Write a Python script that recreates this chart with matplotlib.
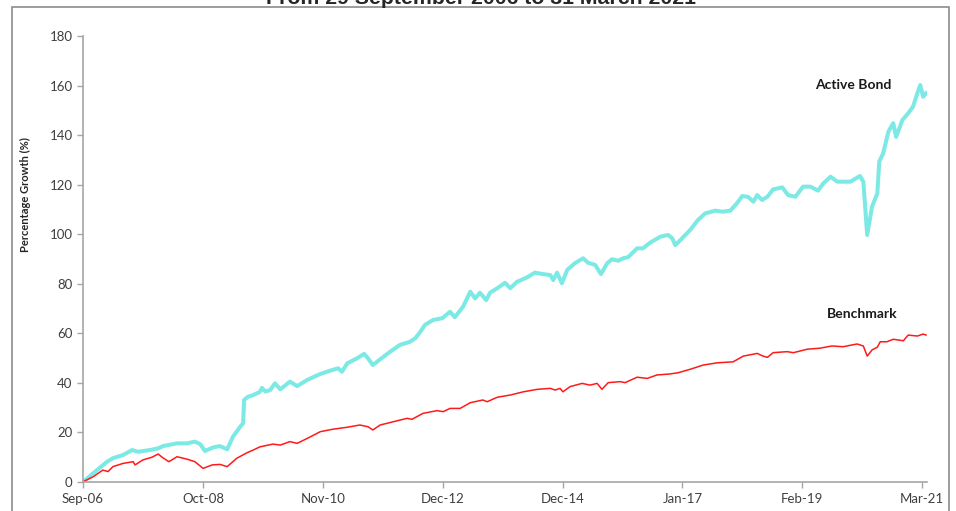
import numpy as np
import matplotlib
matplotlib.use("Agg")
from matplotlib import pyplot as plt
from matplotlib.patches import Rectangle

# months since Sep-06 and percentage growth
bond_month = [0, 2.1, 5.0, 6.2, 8.3, 10.2, 11.4, 13.9, 15.6, 16.6, 19.5, 21.6, 23.2, 24.3,
              25.3, 27.0, 28.4, 29.9, 31.1, 32.6, 33.2, 33.4, 34.2, 35.3, 36.7, 37.1, 37.8,
              38.8, 39.8, 40.9, 42.9, 44.4, 46.5, 49.2, 51.2, 52.9, 53.7, 54.8, 56.8, 58.3,
              59.1, 60.1, 61.6, 63.7, 65.7, 67.8, 68.9, 69.9, 70.9, 72.6, 74.5, 76.1, 77.1,
              78.8, 80.3, 81.3, 82.3, 83.6, 84.4, 85.9, 87.5, 88.6, 90.0, 92.1, 93.7, 95.4,
              96.9, 97.5, 98.3, 99.3, 100.4, 102.0, 103.7, 104.7, 106.2, 107.4, 108.7, 109.7,
              111.0, 112.0, 113.0, 114.9, 116.1, 117.6, 119.7, 121.3, 122.2, 122.8, 124.2,
              125.9, 127.5, 129.0, 131.1, 132.7, 134.2, 135.6, 136.7, 137.9, 139.0, 139.8,
              140.8, 141.9, 143.1, 145.0, 146.2, 147.7, 149.3, 150.8, 152.4, 153.5, 155.0,
              156.4, 159.1, 161.1, 161.8, 162.6, 163.6, 164.7, 165.1, 165.9, 167.0, 168.0,
              168.6, 169.9, 171.1, 172.1, 173.0, 173.6, 174.2, 174.8]
bond_value = [0, 3.5, 8.2, 9.6, 10.9, 12.9, 12.2, 12.9, 13.6, 14.5, 15.6, 15.6, 16.3, 15.3,
              12.5, 14.0, 14.5, 13.2, 18.3, 22.3, 23.7, 33.1, 34.4, 35.1, 36.4, 38.0, 36.5,
              37.1, 39.8, 37.4, 40.5, 38.7, 41.2, 43.6, 44.9, 45.9, 44.5, 47.9, 49.9, 51.7,
              49.9, 47.2, 49.5, 52.6, 55.3, 56.6, 58.0, 60.5, 63.4, 65.4, 66.1, 68.7, 66.5,
              70.7, 76.8, 74.1, 76.4, 73.4, 76.4, 78.2, 80.4, 78.2, 80.8, 82.6, 84.5, 83.9,
              83.5, 81.5, 84.5, 80.2, 85.6, 88.3, 90.3, 88.5, 87.6, 83.9, 88.3, 89.9,
              89.3, 90.3, 90.7, 94.3, 94.3, 96.6, 99.0, 99.7, 98.3, 95.6, 98.3,
              101.7, 105.7, 108.4, 109.5, 109.1, 109.5, 112.5, 115.4, 115.1, 113.1, 115.8,
              113.8, 115.1, 118.1, 118.9, 115.8, 115.1, 119.2, 119.2, 117.6, 120.5, 123.2,
              121.2, 121.2, 123.5, 121.2, 99.7, 111.1, 116.5, 129.3, 132.6, 141.4, 144.8,
              139.3, 146.1, 148.8, 151.5, 156.9, 160.2, 155.5, 156.9]

bench_month = [0, 2.1, 4.1, 5.2, 6.2, 8.3, 10.4, 10.8, 12.4, 14.3, 15.6, 16.4, 17.8, 19.5,
               21.6, 23.2, 24.9, 26.8, 28.4, 29.9, 31.9, 34.0, 35.3, 36.7, 39.4, 40.9, 42.9,
               44.4, 46.5, 49.2, 51.8, 54.8, 57.4, 59.1, 60.1, 61.6, 64.3, 67.2, 68.2, 70.5,
               73.4, 74.7, 76.1, 78.2, 80.3, 82.9, 83.8, 85.9, 88.6, 91.3, 94.2, 96.9, 97.9,
               98.9, 99.5, 101.0, 103.5, 105.1, 106.6, 107.6, 108.9, 111.4, 112.4, 114.9,
               117.0, 119.0, 121.7, 123.4, 125.9, 128.6, 131.5, 134.8, 136.9, 139.8, 141.0,
               141.9, 143.1, 146.0, 147.3, 150.2, 152.8, 155.3, 157.6, 160.5, 161.8, 162.6,
               163.6, 164.7, 165.3, 166.7, 168.0, 170.1, 171.1, 173.0, 174.2, 174.8]
bench_value = [0.1, 2.1, 4.8, 4.2, 6.2, 7.5, 8.2, 6.9, 8.9, 10.0, 11.3, 10.0, 8.2, 10.2,
               9.2, 8.2, 5.5, 6.9, 7.1, 6.2, 9.6, 11.8, 12.9, 14.2, 15.3, 14.9, 16.3,
               15.6, 17.6, 20.3, 21.3, 22.1, 23.0, 22.3, 21.0, 23.0, 24.3, 25.7, 25.3, 27.7,
               28.8, 28.4, 29.7, 29.7, 32.0, 33.1, 32.4, 34.2, 35.1, 36.4, 37.4, 37.8, 37.1,
               37.8, 36.4, 38.5, 39.8, 39.1, 39.8, 37.4, 40.1, 40.5, 40.1, 42.3,
               41.8, 43.2, 43.6, 44.1, 45.5, 47.2, 48.1, 48.5, 50.8, 51.9, 50.8,
               50.3, 52.2, 52.6, 52.2, 53.6, 54.0, 54.9, 54.6, 55.7, 54.9, 50.8,
               53.3, 54.4, 56.6, 56.6, 57.6, 57.0, 59.3, 58.9, 59.7, 59.3]

tick_labels = ["Sep-06", "Oct-08", "Nov-10", "Dec-12", "Dec-14", "Jan-17", "Feb-19", "Mar-21"]
tick_pos = np.linspace(0, 174, len(tick_labels))

plt.rcParams["font.family"] = ["Lato", "DejaVu Sans"]

fig = plt.figure(figsize=(9.56, 5.11), dpi=100)
ax = fig.add_axes([83/956, 29/511, 844/956, 446/511])

ax.plot(bond_month, bond_value, color="#7de9e5", lw=2.9, solid_joinstyle="round")
ax.plot(bench_month, bench_value, color="#ff1a1a", lw=1.1)

ax.set_xlim(0, 175)
ax.set_ylim(0, 180)
ax.set_yticks(range(0, 181, 20))
ax.set_xticks(tick_pos)
ax.set_xticklabels(tick_labels)

for s in ["top", "right"]:
    ax.spines[s].set_visible(False)
for s in ["left", "bottom"]:
    ax.spines[s].set_color("#a6a6a6")
    ax.spines[s].set_linewidth(1.2)
ax.tick_params(colors="#a6a6a6", labelcolor="#404040", labelsize=9.5, length=4, width=1)
ax.tick_params(axis="x", pad=4)

ax.set_ylabel("Percentage Growth (%)", fontsize=8, fontweight="bold", color="#262626")
ax.yaxis.set_label_coords(-0.0616, 0.644)

ax.text(159.7, 160.2, "Active Bond", fontsize=10, fontweight="bold", color="#1a1a1a", ha="center", va="center")
ax.text(161.5, 67.8, "Benchmark", fontsize=10, fontweight="bold", color="#1a1a1a", ha="center", va="center")

# title cut by the top edge, like the source image
fig.text(481/956, 1 - 4/511, "From 29 September 2006 to 31 March 2021", fontsize=15.3,
         fontweight="bold", family=["Liberation Sans", "DejaVu Sans"], color="#262626",
         ha="center", va="baseline")

fig.patches.append(Rectangle((12/956, -0.05), 937/956, 1.05 - 7/511, transform=fig.transFigure,
                             fill=False, edgecolor="#8c8c8c", lw=1.2))

fig.savefig("out.png", dpi=100)
